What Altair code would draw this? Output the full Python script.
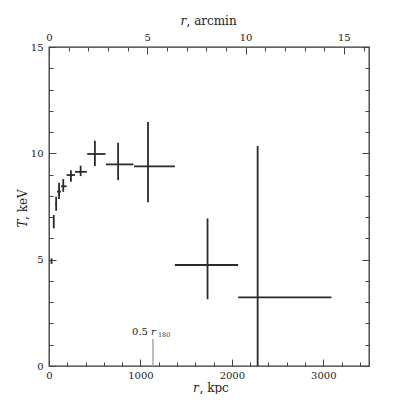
import altair as alt
import pandas as pd

# ---- data ----
r_kpc = [28, 52, 78, 110, 156, 240, 346, 502, 756, 1083, 1734, 2282]
r_lo = [24, 46, 70, 88, 131, 193, 284, 418, 622, 930, 1377, 2069]
r_hi = [32, 58, 86, 130, 193, 284, 414, 618, 924, 1377, 2069, 3089]
T_keV = [4.93, 6.78, 7.63, 8.20, 8.45, 8.98, 9.13, 9.97, 9.48, 9.39, 4.75, 3.23]
T_lo = [4.80, 6.47, 7.30, 7.85, 8.19, 8.66, 8.93, 9.40, 8.74, 7.70, 3.14, 0.00]
T_hi = [5.06, 7.10, 7.96, 8.62, 8.79, 9.21, 9.42, 10.59, 10.50, 11.47, 6.94, 10.34]

half_r180_kpc = [1137]
marker_base = [0.0]
marker_top = [1.27]

kpc_ticks = list(range(0, 3600, 200))
kpc_labels = [0, 1000, 2000, 3000]
arcmin_ticks = list(range(0, 17))
arcmin_labels = [0, 5, 10, 15]
T_ticks = list(range(0, 16))
T_labels = [0, 5, 10, 15]
kpc_domain = [0, 3500]
kpc_per_arcmin = 215.0
T_domain = [0, 15]

df = pd.DataFrame(dict(r=r_kpc, r_lo=r_lo, r_hi=r_hi, T=T_keV, T_lo=T_lo, T_hi=T_hi))
mk = pd.DataFrame(dict(r=half_r180_kpc, base=marker_base, top=marker_top))
am = pd.DataFrame(dict(a=arcmin_labels))

W, H = 320, 319
FONT = "DejaVu Serif"
INK = "#222222"
TICK = "#444444"

xs = alt.Scale(domain=kpc_domain, nice=False, zero=False)
ys = alt.Scale(domain=T_domain, nice=False, zero=False)
xa = alt.Scale(domain=[0, kpc_domain[1] / kpc_per_arcmin], nice=False, zero=False)


def tick_axis(orient, offset, values, test, **kw):
    return alt.Axis(orient=orient, offset=offset, values=values, labels=False,
                    domain=False, grid=False, ticks=True,
                    tickSize={"condition": {"test": test, "value": 7}, "value": 4},
                    tickColor=TICK, tickWidth=1, **kw)


def label_axis(orient, values, pad, **kw):
    return alt.Axis(orient=orient, values=values, ticks=False, tickSize=0, format="d",
                    domain=False, grid=False, labelPadding=pad, labelFlush=False,
                    labelFont=FONT, labelFontSize=10, labelColor=INK, **kw)


title_common = dict(titleFont=FONT, titleFontSize=12, titleFontWeight="normal",
                    titleColor=INK, titleAlign="left", titleBaseline="alphabetic")

axis_a = label_axis("bottom", kpc_labels, 4, title=", kpc", titleX=150, titleY=25, **title_common)
axis_b = tick_axis("top", -H, kpc_ticks, "datum.value % 1000 === 0",
                   title="r", titleX=143.5, titleY=25, titleFontStyle="italic", **title_common)
axis_c = label_axis("top", arcmin_labels, 5, title=", arcmin", titleX=137, titleY=-23, **title_common)
axis_d = tick_axis("bottom", -H, arcmin_ticks, "datum.value % 5 === 0",
                   title="r", titleX=131, titleY=-23, titleFontStyle="italic", **title_common)
axis_e = label_axis("left", T_labels, 6, title=", keV", titleAngle=270, titleX=-23, titleY=172.5,
                    **title_common)
axis_f = tick_axis("right", -W, T_ticks, "datum.value % 5 === 0",
                   title="T", titleAngle=270, titleX=-23, titleY=180, titleFontStyle="italic",
                   **title_common)
axis_g = tick_axis("left", -W, T_ticks, "datum.value % 5 === 0", title=None)

hbars = alt.Chart(df).mark_rule(color="#2a2a2a", strokeWidth=1.8).encode(
    x=alt.X("r_lo:Q", scale=xs, axis=axis_a),
    x2="r_hi:Q",
    y=alt.Y("T:Q", scale=ys, axis=axis_e),
)
vbars = alt.Chart(df).mark_rule(color="#2a2a2a", strokeWidth=1.8).encode(
    x=alt.X("r:Q", scale=xs, axis=axis_b),
    y=alt.Y("T_lo:Q", scale=ys, axis=axis_f),
    y2="T_hi:Q",
)
marker = alt.Chart(mk).mark_rule(color="#aaaaaa", strokeWidth=1.5).encode(
    x=alt.X("r:Q", scale=xs, axis=None),
    y=alt.Y("base:Q", scale=ys, axis=axis_g),
    y2="top:Q",
)
arc1 = alt.Chart(am).mark_point(opacity=0).encode(
    x=alt.X("a:Q", scale=xa, axis=axis_c))
arc2 = alt.Chart(am).mark_point(opacity=0).encode(
    x=alt.X("a:Q", scale=xa, axis=axis_d))

txt_base = alt.Chart(mk).encode(
    x=alt.X("r:Q", scale=xs, axis=None),
    y=alt.Y("top:Q", scale=ys, axis=None),
)
t1 = txt_base.mark_text(text="0.5", font=FONT, fontSize=10, color=INK, align="right",
                        baseline="alphabetic", dx=-5, dy=-4)
t2 = txt_base.mark_text(text="r", font=FONT, fontSize=10, fontStyle="italic", color=INK,
                        align="left", baseline="alphabetic", dx=-2, dy=-4)
t3 = txt_base.mark_text(text="180", font=FONT, fontSize=6.5, color="#333333", align="left",
                        baseline="alphabetic", dx=5, dy=-2)

chart = alt.layer(hbars, vbars, marker, arc1, arc2, t1, t2, t3).resolve_scale(
    x="independent", y="independent"
).resolve_axis(
    x="independent", y="independent"
).properties(
    width=W, height=H,
    autosize=alt.AutoSizeParams(type="none"),
    padding={"left": 41, "top": 39, "right": 20, "bottom": 28},
).configure_view(stroke="#333333", strokeWidth=1.3)

chart.save("out.html", embed_options={"renderer": "svg", "actions": False})
